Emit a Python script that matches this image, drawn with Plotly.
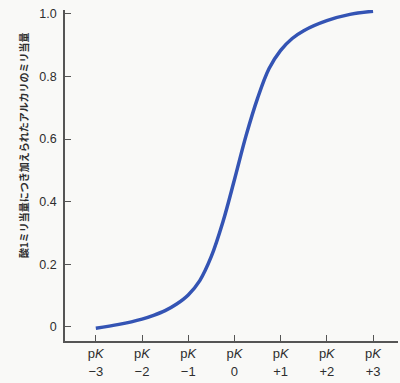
import plotly.graph_objects as go

# Data
x_vals = [-3.0, -2.5, -2.0, -1.75, -1.5, -1.25, -1.0, -0.75, -0.5, -0.25, 0.0,
          0.25, 0.5, 0.75, 1.0, 1.25, 1.5, 2.0, 2.5, 3.0]
y_vals = [-0.004, 0.008, 0.025, 0.037, 0.052, 0.073, 0.102, 0.148, 0.225, 0.335, 0.47,
          0.610, 0.730, 0.825, 0.883, 0.921, 0.946, 0.978, 0.998, 1.008]

x_tickvals = [-3, -2, -1, 0, 1, 2, 3]
x_tick_top = ["p<i>K</i>"] * 7
x_tick_bottom = ["\u22123", "\u22122", "\u22121", "0", "+1", "+2", "+3"]
y_tickvals = [0, 0.2, 0.4, 0.6, 0.8, 1.0]
y_ticktext = ["0", "0.2", "0.4", "0.6", "0.8", "1.0"]
y_title = "酸1ミリ当量につき加えられたアルカリのミリ当量"

bg = "#f9f9f7"
axis_col = "#555555"
text_col = "#2e2e2e"
font_fam = "Liberation Sans, Arial, sans-serif"

fig = go.Figure()
fig.add_trace(go.Scatter(
    x=x_vals, y=y_vals, mode="lines",
    line=dict(color="#3454b4", width=3.5, shape="spline", smoothing=1.0),
    hoverinfo="skip", showlegend=False,
))
# invisible trace on overlay axis to activate it
fig.add_trace(go.Scatter(x=[x_tickvals[0]], y=[y_vals[0]], xaxis="x2", mode="markers",
                         marker=dict(opacity=0), showlegend=False, hoverinfo="skip"))

xr = [-3.667, 3.54]
fig.update_layout(
    width=400, height=383,
    margin=dict(l=65, r=2, t=10, b=42),
    paper_bgcolor=bg, plot_bgcolor=bg,
    font=dict(family=font_fam, color=text_col, size=12),
    xaxis=dict(
        range=xr, showgrid=False, zeroline=False,
        showline=True, linecolor=axis_col, linewidth=1.5,
        ticks="inside", ticklen=6, tickwidth=1.2, tickcolor=axis_col,
        tickvals=x_tickvals, ticktext=x_tick_top,
        tickfont=dict(size=13, color=text_col),
        ticklabelstandoff=0,
    ),
    xaxis2=dict(
        range=xr, overlaying="x", anchor="y", side="bottom",
        showgrid=False, zeroline=False, showline=False, ticks="",
        tickvals=x_tickvals, ticktext=x_tick_bottom,
        tickfont=dict(size=13, color=text_col),
        ticklabelstandoff=21,
    ),
    yaxis=dict(
        range=[-0.045, 1.012], showgrid=False, zeroline=False,
        showline=True, linecolor=axis_col, linewidth=1.5,
        ticks="inside", ticklen=6, tickwidth=1.2, tickcolor=axis_col,
        tickvals=y_tickvals, ticktext=y_ticktext,
        tickfont=dict(size=12.5, color=text_col),
        ticklabelstandoff=4,
    ),
    annotations=[dict(
        text="<b>" + y_title + "</b>", textangle=-90,
        xref="paper", yref="paper", x=-0.126, y=0.592,
        xanchor="center", yanchor="middle", showarrow=False,
        font=dict(family="Noto Sans CJK JP", size=10, color=text_col),
    )],
)

fig.write_html("out.html")
